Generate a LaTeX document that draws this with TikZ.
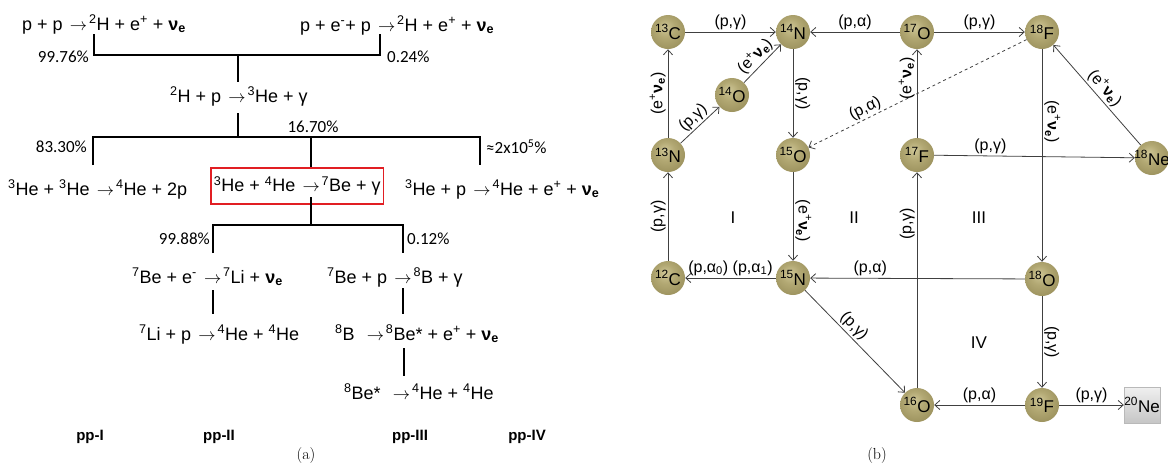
\documentclass[tikz,border=0pt]{standalone}
\usepackage{fontspec}
\usepackage{tikz}
\usetikzlibrary{arrows.meta, positioning, calc, shapes}
\newfontfamily\eqfont{Liberation Sans}
\newfontfamily\pctfont{Carlito}

\definecolor{boxred}{RGB}{225,30,35}
\definecolor{nucA}{RGB}{206,198,150}
\definecolor{nucB}{RGB}{178,168,115}
\definecolor{nucC}{RGB}{150,140,88}
\definecolor{nucD}{RGB}{112,102,58}
\pgfdeclareradialshading{nucball}{\pgfpoint{-5bp}{8bp}}{%
  color(0bp)=(nucA); color(14bp)=(nucB); color(34bp)=(nucC); color(50bp)=(nucD)}

\newcommand{\iso}[2]{\textsuperscript{#1}#2}
\newcommand{\nue}{{\bfseries ν\textsubscript{e}}}
\newcommand{\enu}{(e\textsuperscript{+}\nue)}
\newcommand{\yields}{\hspace{0.4em}$\rightarrow$\hspace{0.1em}}

\begin{document}
\begin{tikzpicture}[x=1pt, y=-1pt,
    eqn/.style={font=\eqfont\fontsize{18}{20}\selectfont, inner sep=0pt, anchor=base west},
    pct/.style={font=\pctfont\fontsize{17}{19}\selectfont, inner sep=0pt},
    ppname/.style={font=\eqfont\bfseries\fontsize{15}{17}\selectfont},
    tree/.style={line width=1.6pt},
    nuc/.style={circle, minimum size=34pt, inner sep=0pt, shade, shading=nucball},
    nuctxt/.style={font=\eqfont\fontsize{17}{19}\selectfont, inner sep=0pt},
    rxn/.style={draw=black!75, line width=0.8pt, -{Straight Barb[length=5pt,width=9pt]}},
    lbl/.style={font=\eqfont\fontsize{16}{18}\selectfont, inner sep=2pt},
    upl/.style={rotate=90, anchor=south},
    dnr/.style={rotate=-90, anchor=south}]
    \useasboundingbox (0,0) rectangle (1168,467);

    % (a) pp chains
    \node[eqn] (pp) at (22,30) {p + p\yields\iso{2}{H} + e\textsuperscript{+} + \nue};
    \node[eqn] (pep) at (300,31) {p + e\textsuperscript{-}+ p\yields\iso{2}{H} + e\textsuperscript{+} + \nue};
    \coordinate (b1l) at (94,34);
    \coordinate (b1r) at (380,34);
    \coordinate (k1) at (238,55);
    \coordinate (k1d) at (238,82);
    \draw[tree] (b1l) |- (k1) -| (b1r);
    \draw[tree] (k1) -- (k1d);
    \node[pct, anchor=east] (p9976) at (89,57) {99.76\%};
    \node[pct, anchor=west] (p024) at (387,57) {0.24\%};

    \node[eqn] (dp) at (170,102) {\iso{2}{H} + p\yields\iso{3}{He} + γ};
    \coordinate (k2u) at (238,113);
    \coordinate (k2) at (238,137);
    \coordinate (b2l) at (93,165);
    \coordinate (b2m) at (311,168);
    \coordinate (b2r) at (480,165);
    \draw[tree] (k2u) -- (k2);
    \draw[tree] (b2l) |- (k2) -| (b2r);
    \draw[tree] (b2m) -- (b2m |- k2);
    \node[pct, anchor=east] (p8330) at (87,147) {83.30\%};
    \node[pct] (p1670) at (313,127) {16.70\%};
    \node[pct, anchor=west] (p2e5) at (486,147) {≈2x10\textsuperscript{5}\%};

    \node[eqn] (he33) at (8,195) {\iso{3}{He} + \iso{3}{He}\yields\iso{4}{He} + 2p};
    \node[eqn, draw=boxred, line width=1.6pt, inner xsep=3pt, minimum height=36pt, anchor=west]
        (he34) at (210,186) {\iso{3}{He} + \iso{4}{He}\yields\iso{7}{Be} + γ};
    \node[eqn] (hep) at (405,195) {\iso{3}{He} + p\yields\iso{4}{He} + e\textsuperscript{+} + \nue};
    \coordinate (k3u) at (311,197);
    \coordinate (k3) at (311,225);
    \coordinate (b3l) at (213,253);
    \coordinate (b3r) at (403,253);
    \draw[tree] (k3u) -- (k3);
    \draw[tree] (b3l) |- (k3) -| (b3r);
    \node[pct, anchor=east] (p9988) at (210,239) {99.88\%};
    \node[pct, anchor=west] (p012) at (407,239) {0.12\%};

    \node[eqn] (be7e) at (132,283) {\iso{7}{Be} + e\textsuperscript{-}\yields\iso{7}{Li} + \nue};
    \node[eqn] (be7p) at (327,283) {\iso{7}{Be} + p\yields\iso{8}{B} + γ};
    \draw[tree] (213,290) -- (213,314);
    \draw[tree] (403,288) -- (403,314);
    \node[eqn] (li7p) at (139,340) {\iso{7}{Li} + p\yields\iso{4}{He} + \iso{4}{He}};
    \node[eqn] (b8) at (335,340) {\iso{8}{B} \yields\iso{8}{Be*} + e\textsuperscript{+} + \nue};
    \draw[tree] (404,348) -- (404,376);
    \node[eqn] (be8) at (344,399) {\iso{8}{Be*} \yields\iso{4}{He} + \iso{4}{He}};

    \node[ppname] (pp1) at (90,437) {pp-I};
    \node[ppname] (pp2) at (219,437) {pp-II};
    \node[ppname] (pp3) at (410,437) {pp-III};
    \node[ppname] (pp4) at (527,437) {pp-IV};
    \node[font=\fontsize{16}{18}\selectfont] (capa) at (306,455) {(a)};

    % (b) CNO cycles
    \node[nuc, label={[nuctxt]center:\iso{13}{C}}] (c13) at (668,32) {};
    \node[nuc, label={[nuctxt]center:\iso{14}{N}}] (n14) at (793,32) {};
    \node[nuc, label={[nuctxt]center:\iso{17}{O}}] (o17) at (917,32) {};
    \node[nuc, label={[nuctxt]center:\iso{18}{F}}] (f18) at (1042,32) {};
    \node[nuc, label={[nuctxt]center:\iso{14}{O}}] (o14) at (732,95) {};
    \node[nuc, label={[nuctxt]center:\iso{13}{N}}] (n13) at (668,155) {};
    \node[nuc, label={[nuctxt]center:\iso{15}{O}}] (o15) at (793,155) {};
    \node[nuc, label={[nuctxt]center:\iso{17}{F}}] (f17) at (917,155) {};
    \node[nuc, label={[nuctxt]center:\iso{18}{Ne}}] (ne18) at (1152,158) {};
    \node[nuc, label={[nuctxt]center:\iso{12}{C}}] (c12) at (668,278) {};
    \node[nuc, label={[nuctxt]center:\iso{15}{N}}] (n15) at (793,278) {};
    \node[nuc, label={[nuctxt]center:\iso{18}{O}}] (o18) at (1042,279) {};
    \node[nuc, label={[nuctxt]center:\iso{16}{O}}] (o16) at (917,405) {};
    \node[nuc, label={[nuctxt]center:\iso{19}{F}}] (f19) at (1042,405) {};
    \node[nuctxt, minimum size=36pt, draw=gray!55, top color=gray!12, bottom color=gray!45]
        (ne20) at (1142,405) {\iso{20}{Ne}};

    \draw[rxn] (c13) -- node[lbl, above] {(p,γ)} (n14);
    \draw[rxn] (o17) -- node[lbl, above] {(p,α)} (n14);
    \draw[rxn] (o17) -- node[lbl, above] {(p,γ)} (f18);
    \draw[rxn] (n13) -- node[lbl, upl] {\enu} (c13);
    \draw[rxn] (n13) -- node[lbl, sloped, above] {(p,γ)} (o14);
    \draw[rxn] (o14) -- node[lbl, sloped, above] {\enu} (n14);
    \draw[rxn] (n14) -- node[lbl, dnr] {(p,γ)} (o15);
    \draw[rxn, dashed] (f18) -- node[lbl, sloped, above, pos=0.72] {(p,α)} (o15);
    \draw[rxn] (f17) -- node[lbl, upl, pos=0.67] {\enu} (o17);
    \draw[rxn] (f17) -- node[lbl, above, pos=0.28] {(p,γ)} (ne18);
    \draw[rxn] (ne18) -- node[lbl, sloped, above] {\enu} (f18);
    \draw[rxn] (f18) -- node[lbl, dnr, pos=0.34] {\enu} (o18);
    \draw[rxn] (c12) -- node[lbl, upl] {(p,γ)} (n13);
    \draw[rxn] (o15) -- node[lbl, dnr, pos=0.55] {\enu} (n15);
    \draw[rxn] (n15) -- node[lbl, above] {(p,α\textsubscript{0}) (p,α\textsubscript{1})} (c12);
    \draw[rxn] (o18) -- node[lbl, above, pos=0.72] {(p,α)} (n15);
    \draw[rxn] (o16) -- node[lbl, upl, pos=0.76] {(p,γ)} (f17);
    \draw[rxn] (n15) -- node[lbl, sloped, above, pos=0.42] {(p,γ)} (o16);
    \draw[rxn] (o18) -- node[lbl, dnr] {(p,γ)} (f19);
    \draw[rxn] (f19) -- node[lbl, above] {(p,α)} (o16);
    \draw[rxn] (f19) -- node[lbl, above] {(p,γ)} (ne20);

    \node[font=\eqfont\fontsize{17}{19}\selectfont] (r1) at (733,218) {I};
    \node[font=\eqfont\fontsize{17}{19}\selectfont] (r2) at (854,218) {II};
    \node[font=\eqfont\fontsize{17}{19}\selectfont] (r3) at (979,218) {III};
    \node[font=\eqfont\fontsize{17}{19}\selectfont] (r4) at (979,343) {IV};
    \node[font=\fontsize{16}{18}\selectfont] (capb) at (877,455) {(b)};
\end{tikzpicture}
\end{document}
